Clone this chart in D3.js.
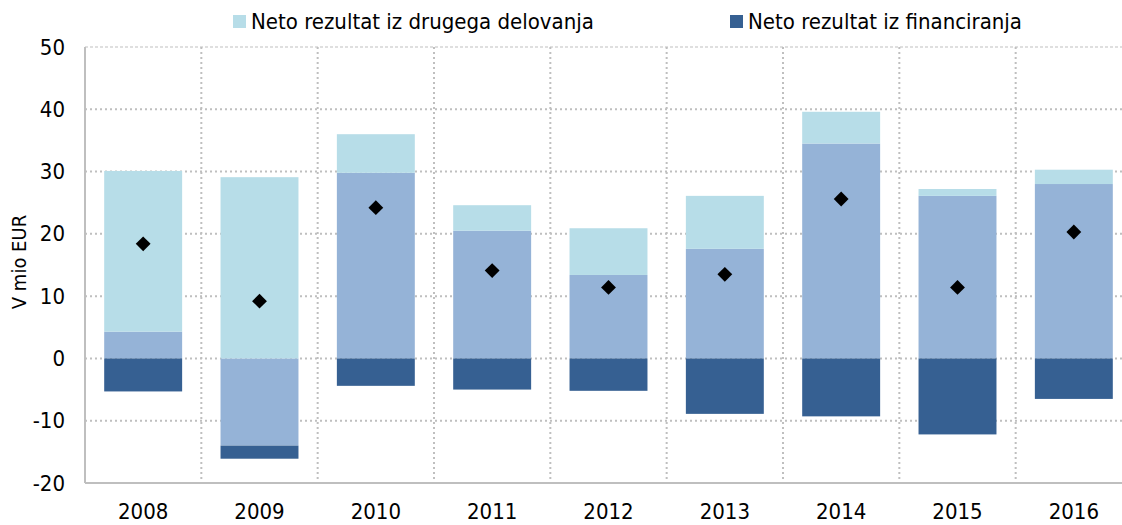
<!DOCTYPE html>
<html>
<head>
<meta charset="utf-8">
<script src="https://cdn.jsdelivr.net/npm/d3@7"></script>
<style>
  body { margin: 0; background: #fff; }
  text { font-family: "Liberation Sans Narrow", "DejaVu Sans Condensed", sans-serif; fill: #000; }
</style>
</head>
<body>
<div class="chart"></div>
<script>
var years = ["2008", "2009", "2010", "2011", "2012", "2013", "2014", "2015", "2016"];
// middle series (no visible legend entry), other activities, financing
var poslovanje = [4.3, -14.0, 29.8, 20.5, 13.4, 17.6, 34.5, 26.1, 28.0];
var drugo = [25.8, 29.1, 6.2, 4.1, 7.5, 8.5, 5.1, 1.1, 2.3];
var financiranje = [-5.3, -2.1, -4.4, -5.0, -5.2, -8.9, -9.3, -12.2, -6.5];
var skupaj = [18.4, 9.2, 24.2, 14.1, 11.4, 13.5, 25.6, 11.4, 20.3];
var yTicks = [-20, -10, 0, 10, 20, 30, 40, 50];
var legendNames = ["Neto rezultat iz drugega delovanja", "Neto rezultat iz financiranja"];

var colours = {
    poslovanje: "#95b3d7",
    drugo: "#b7dde8",
    financiranje: "#366092"
};

var width = 1122, height = 525;
var margins = { top: 47, left: 85, bottom: 42 };
var plotRight = 1132;

var rows = years.map(function (y, i) {
    return { year: y, poslovanje: poslovanje[i], drugo: drugo[i], financiranje: financiranje[i], skupaj: skupaj[i] };
});

var svg = d3.select('.chart')
    .append('svg')
    .attr('width', width)
    .attr('height', height);

var xScale = d3.scaleBand()
    .domain(years)
    .range([margins.left, plotRight])
    .paddingInner(0.33)
    .paddingOuter(0.165);

var yScale = d3.scaleLinear()
    .domain([-20, 50])
    .range([height - margins.bottom, margins.top]);

var step = xScale.step();

// grid
var grid = svg.append('g');
grid.selectAll('line.h')
    .data(yTicks.slice(1))
    .enter()
    .append('line')
    .attr('x1', margins.left)
    .attr('x2', plotRight)
    .attr('y1', d => yScale(d))
    .attr('y2', d => yScale(d))
    .attr('stroke', '#bfbfbf')
    .attr('stroke-width', d => d === 50 ? 1 : 2)
    .attr('stroke-dasharray', d => d === 50 ? '3,2' : '2,3');

grid.selectAll('line.v')
    .data(years.slice(1))
    .enter()
    .append('line')
    .attr('x1', d => xScale(d) - xScale.paddingInner() * step / 2)
    .attr('x2', d => xScale(d) - xScale.paddingInner() * step / 2)
    .attr('y1', yScale(50))
    .attr('y2', yScale(-20))
    .attr('stroke', '#bfbfbf')
    .attr('stroke-width', 2)
    .attr('stroke-dasharray', '2,3');

// stacked bars
var stack = d3.stack()
    .keys(["poslovanje", "drugo", "financiranje"])
    .offset(d3.stackOffsetDiverging);

var series = stack(rows);

svg.append('g')
    .selectAll('g')
    .data(series)
    .enter()
    .append('g')
    .attr('fill', d => colours[d.key])
    .selectAll('rect')
    .data(d => d)
    .enter()
    .append('rect')
    .attr('x', d => xScale(d.data.year))
    .attr('width', xScale.bandwidth())
    .attr('y', d => yScale(Math.max(d[0], d[1])))
    .attr('height', d => Math.abs(yScale(d[0]) - yScale(d[1])));

// totals
svg.append('g')
    .selectAll('path')
    .data(rows)
    .enter()
    .append('path')
    .attr('d', d3.symbol().type(d3.symbolSquare).size(110))
    .attr('transform', d => 'translate(' + (xScale(d.year) + xScale.bandwidth() / 2) + ',' + yScale(d.skupaj) + ') rotate(45)')
    .attr('fill', '#000');

// axes
svg.append('line')
    .attr('x1', margins.left).attr('x2', margins.left)
    .attr('y1', yScale(50)).attr('y2', yScale(-20))
    .attr('stroke', '#bfbfbf').attr('stroke-width', 2);
svg.append('line')
    .attr('x1', margins.left).attr('x2', plotRight)
    .attr('y1', yScale(-20)).attr('y2', yScale(-20))
    .attr('stroke', '#bfbfbf').attr('stroke-width', 2);

var yAxis = d3.axisLeft(yScale)
    .tickValues(yTicks)
    .tickFormat(d => String(d))
    .tickSize(0)
    .tickPadding(20);

svg.append('g')
    .attr('transform', 'translate(' + margins.left + ',0)')
    .call(yAxis)
    .call(g => g.select('.domain').remove())
    .selectAll('text')
    .style('font-size', '22px');

var xAxis = d3.axisBottom(xScale)
    .tickSize(0)
    .tickPadding(20);

svg.append('g')
    .attr('transform', 'translate(0,' + yScale(-20) + ')')
    .call(xAxis)
    .call(g => g.select('.domain').remove())
    .selectAll('text')
    .style('font-size', '22px');

svg.append('text')
    .attr('transform', 'translate(26,262) rotate(-90)')
    .attr('text-anchor', 'middle')
    .style('font-size', '20px')
    .text('V mio EUR');

// legend
var legendX = [233, 730];
var legendColours = [colours.drugo, colours.financiranje];
legendNames.forEach(function (s, i) {
    svg.append('rect')
        .attr('x', legendX[i])
        .attr('y', 15)
        .attr('width', 13)
        .attr('height', 13)
        .attr('fill', legendColours[i]);
    svg.append('text')
        .attr('x', legendX[i] + 18)
        .attr('y', 29)
        .style('font-size', '22px')
        .text(s);
});
</script>
</body>
</html>
